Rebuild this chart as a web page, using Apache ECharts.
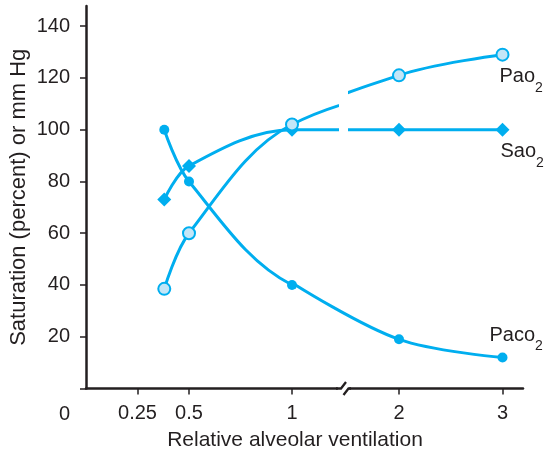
<!DOCTYPE html>
<html><head><meta charset="utf-8">
<script src="https://cdn.jsdelivr.net/npm/echarts@6/dist/echarts.min.js"></script>
<style>html,body{margin:0;padding:0;background:#fff}#c{width:547px;height:457px}</style>
</head><body><div id="c"></div>
<script>
// Data
const ventilation = [0.38, 0.5, 1, 2, 3];
const pao2 = [38.5, 60, 102, 121, 129];
const sao2 = [73, 86, 100, 100, 100];
const paco2 = [100, 80, 40, 19, 12];
const yTicks = [0, 20, 40, 60, 80, 100, 120, 140];
const xTicksLeft = [0.25, 0.5, 1];
const xTicksRight = [2, 3];
const labelPao = ['Pao', '2'];
const labelSao = ['Sao', '2'];
const labelPaco = ['Paco', '2'];

const FONT = '"Liberation Sans", Arial, Helvetica, sans-serif';
const INK = '#231f20';
const BLUE = '#00aeef';
const LIGHT = '#c4e6f7';

const chart = echarts.init(document.getElementById('c'), null, {renderer: 'canvas'});

const rich = {
  m: {fontSize: 20, fontFamily: FONT, color: INK, verticalAlign: 'top', lineHeight: 22},
  s: {fontSize: 14, fontFamily: FONT, color: INK, verticalAlign: 'top', lineHeight: 14, padding: [14, 0, 0, 0]}
};

function pts(vals, from) { return ventilation.map((x, i) => [x, vals[i]]).slice(from || 0); }

function withLabel(d, txt, lbl) {
  const last = d.length - 1;
  d[last] = {value: d[last], label: Object.assign({show: true, formatter: '{m|' + txt[0] + '}{s|' + txt[1] + '}', rich: rich}, lbl)};
  return d;
}
function hideFirstSymbol(d) { d[0] = {value: d[0], symbol: 'none'}; return d; }

const styles = {
  pao: {symbol: 'circle', symbolSize: 12, itemStyle: {color: LIGHT, borderColor: BLUE, borderWidth: 2}},
  sao: {symbol: 'diamond', symbolSize: 14, itemStyle: {color: BLUE}},
  paco: {symbol: 'circle', symbolSize: 10, itemStyle: {color: BLUE}}
};

const SMOOTH = 0.35;
function mk(name, data, st, gi, z) {
  return Object.assign({
    type: 'line', name: name, data: data, xAxisIndex: gi, yAxisIndex: gi,
    smooth: SMOOTH, clip: true, showAllSymbol: true, z: z,
    lineStyle: {color: BLUE, width: 3},
    emphasis: {disabled: true}, silent: true
  }, st);
}

// scale: left part 206 px per unit from x=86; right part 103.5 px per unit, "2" at x=399
const LEFT0 = 86, SCALE_L = 206, SCALE_R = 103.5, POS2 = 399;
const TOP = 6, H = 382.5, RIGHT_END = 523;

function leftGrid(endPx) { return {left: LEFT0, top: TOP, width: endPx - LEFT0, height: H}; }
function rightGrid(startPx) { return {left: startPx, top: TOP, width: RIGHT_END - startPx, height: H}; }

const axisLine = {show: true, lineStyle: {color: INK, width: 2.5}};
const tickStyle = {lineStyle: {color: INK, width: 1.5}, length: 6};
const labelStyle = {color: INK, fontSize: 20, fontFamily: FONT};

function xLeft(gi, endPx, visible) {
  return {type: 'value', gridIndex: gi, min: 0, max: (endPx - LEFT0) / SCALE_L, show: visible,
    axisLine: axisLine, splitLine: {show: false},
    axisTick: Object.assign({show: true, customValues: xTicksLeft}, tickStyle),
    axisLabel: Object.assign({customValues: xTicksLeft, margin: 15, formatter: v => String(v)}, labelStyle)};
}
function xRight(gi, startPx, visible) {
  const min = 2 - (POS2 - startPx) / SCALE_R;
  return {type: 'value', gridIndex: gi, min: min, max: min + (RIGHT_END - startPx) / SCALE_R, show: visible,
    axisLine: axisLine, splitLine: {show: false},
    axisTick: Object.assign({show: true, customValues: xTicksRight}, tickStyle),
    axisLabel: Object.assign({customValues: xTicksRight, margin: 15, formatter: v => String(v)}, labelStyle)};
}
const YMAX = 147.8;
function yHidden(gi) { return {type: 'value', gridIndex: gi, min: 0, max: YMAX, show: false}; }

const series = [
  // Sao2 & Pao2: broken at the axis break (grids 0 and 1)
  mk('Sao2', pts(sao2), styles.sao, 0, 3),
  mk('Pao2', pts(pao2), styles.pao, 0, 4),
  mk('Sao2', withLabel(pts(sao2), labelSao, {position: 'bottom', align: 'left', offset: [-2, 0]}), styles.sao, 1, 3),
  mk('Pao2', withLabel(pts(pao2), labelPao, {position: 'bottom', align: 'left', offset: [-3, 0]}), styles.pao, 1, 4),
  // Paco2: continuous, handing over at the point x = 1 (grids 2 and 3)
  mk('Paco2', pts(paco2), styles.paco, 2, 2),
  mk('Paco2', hideFirstSymbol(withLabel(pts(paco2, 2), labelPaco, {position: 'top', align: 'left', offset: [-13, 0]})), styles.paco, 3, 2)
];

const option = {
  animation: false,
  backgroundColor: '#fff',
  grid: [leftGrid(337), rightGrid(350), leftGrid(294), rightGrid(294)],
  xAxis: [xLeft(0, 337, true), xRight(1, 350, true), xLeft(2, 294, false), xRight(3, 294, false)],
  yAxis: [
    {type: 'value', gridIndex: 0, min: 0, max: YMAX,
     name: 'Saturation (percent) or mm Hg', nameLocation: 'middle', nameGap: 56, nameRotate: 90,
     nameTextStyle: {color: INK, fontSize: 22, fontFamily: FONT},
     axisLine: axisLine, splitLine: {show: false},
     axisTick: Object.assign({show: true, customValues: yTicks}, tickStyle),
     axisLabel: Object.assign({customValues: yTicks, margin: 16,
       formatter: v => (v === 0 ? '{z|0}' : String(v)),
       rich: {z: {fontSize: 20, fontFamily: FONT, color: INK, padding: [51, 0, 0, 0]}}}, labelStyle)},
    yHidden(1), yHidden(2), yHidden(3)
  ],
  graphic: [
    {type: 'polyline', silent: true, z: 10, shape: {points: [[336, 388.5], [341, 388.5], [346, 382]]},
     style: {stroke: INK, lineWidth: 2.3, fill: null}},
    {type: 'polyline', silent: true, z: 10, shape: {points: [[343.5, 395], [348.5, 388.5], [351, 388.5]]},
     style: {stroke: INK, lineWidth: 2.3, fill: null}},
    {type: 'text', silent: true, z: 10, style: {text: 'Relative alveolar ventilation', x: 295, y: 440,
     align: 'center', verticalAlign: 'middle', font: '21px ' + FONT, fill: INK}}
  ],
  series: series
};
chart.setOption(option);
</script>
</body></html>
